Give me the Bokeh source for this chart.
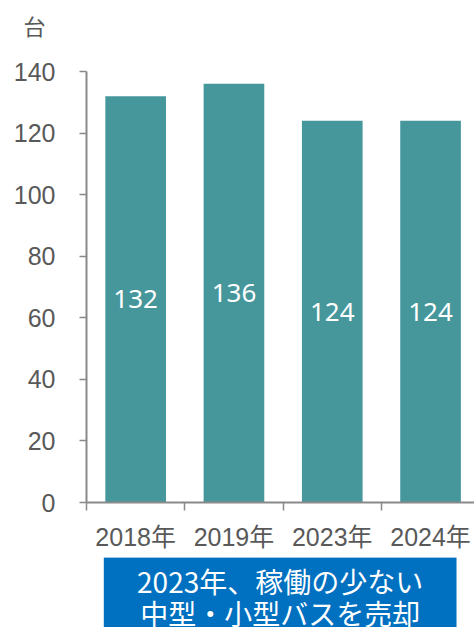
from bokeh.plotting import figure
from bokeh.layouts import column
from bokeh.models import Range1d, FixedTicker, ColumnDataSource, Title
from bokeh.embed import file_html
from bokeh.resources import INLINE
from bokeh.core.properties import value

years = ["2018年", "2019年", "2023年", "2024年"]
counts = [132, 136, 124, 124]
y_ticks = [0, 20, 40, 60, 80, 100, 120, 140]
unit_label = "台"
note_lines = ["2023年、稼働の少ない", "中型・小型バスを売却"]

bar_color = "#46979C"
axis_color = "#898989"
text_color = "#595959"
note_color = "#0070C0"
latin_font = "'Liberation Sans', 'Noto Sans CJK JP'"

xs = [i + 0.5 for i in range(len(years))]
src = ColumnDataSource(dict(
    x=xs,
    top=counts,
    mid=[c / 2 for c in counts],
    label=[str(c) for c in counts],
))

shared_x = Range1d(0, 3.947)

p = figure(width=474, height=557, output_backend="svg", toolbar_location=None,
           x_range=shared_x, y_range=Range1d(0, 140),
           min_border_left=86, min_border_right=0, min_border_top=71,
           min_border_bottom=55)

p.background_fill_color = "white"
p.border_fill_color = "white"
p.outline_line_color = None
p.xgrid.visible = False
p.ygrid.visible = False

# unit label as title (trailing empty line lifts it above the axis top)
p.title = Title(text=unit_label + "\n", align="left", offset=-63, standoff=10,
                text_line_height=0.8,
                text_font_size="22px", text_font_style="normal",
                text_color=text_color, text_font="Noto Sans CJK JP")

p.vbar(x="x", top="top", width=0.617, source=src, fill_color=bar_color,
       line_color=None)
p.text(x="x", y="mid", text="label", source=src, text_align="center",
       text_baseline="middle", text_color="white", text_font_size="26px",
       text_font=value("Noto Sans"))

# x axis
xa = p.xaxis[0]
xa.ticker = FixedTicker(ticks=xs, minor_ticks=list(range(len(years))))
xa.major_label_overrides = {x: y for x, y in zip(xs, years)}
xa.major_tick_out = 0
xa.major_tick_in = 0
xa.major_tick_line_color = None
xa.minor_tick_out = 8
xa.minor_tick_in = 0
xa.minor_tick_line_color = axis_color
xa.minor_tick_line_width = 1.5
xa.axis_line_color = axis_color
xa.axis_line_width = 2
xa.major_label_standoff = 12
xa.major_label_text_font_size = "25px"
xa.major_label_text_color = text_color
xa.major_label_text_font = latin_font

# y axis
ya = p.yaxis[0]
ya.ticker = FixedTicker(ticks=y_ticks, minor_ticks=[])
ya.major_tick_out = 7
ya.major_tick_in = 0
ya.major_tick_line_color = axis_color
ya.major_tick_line_width = 1.5
ya.minor_tick_line_color = None
ya.axis_line_color = axis_color
ya.axis_line_width = 2
ya.major_label_standoff = 24
ya.major_label_text_font_size = "25px"
ya.major_label_text_color = text_color
ya.major_label_text_font = latin_font

# note box panel below the chart (shares the chart's x scale)
q = figure(width=474, height=70, output_backend="svg", toolbar_location=None,
           x_range=shared_x, y_range=Range1d(0, 70),
           min_border_left=86, min_border_right=0, min_border_top=0,
           min_border_bottom=0, x_axis_type=None, y_axis_type=None)
q.background_fill_color = "white"
q.border_fill_color = "white"
q.outline_line_color = None
q.xgrid.visible = False
q.ygrid.visible = False
q.quad(left=[0.176], right=[3.764], bottom=[-10], top=[70.3],
       fill_color=note_color, line_color=None)
q.text(x=[1.97, 1.97], y=[46.5, 15], text=note_lines, text_align="center",
       text_baseline="middle", text_color="white", text_font_size="28px",
       text_font=value("Noto Sans CJK JP"))

layout = column(p, q, spacing=0)
open("out.html", "w").write(file_html(layout, INLINE))
